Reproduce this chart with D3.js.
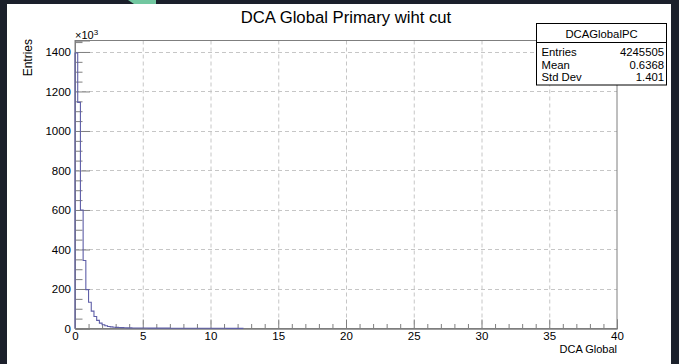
<!DOCTYPE html>
<html><head><meta charset="utf-8">
<script src="https://cdn.jsdelivr.net/npm/d3@7"></script>
<style>
html,body{margin:0;padding:0;background:#1b202b;}
svg{display:block;font-family:"Liberation Sans",Arial,Helvetica,sans-serif;}
</style></head>
<body>
<svg id="c" width="679" height="364"></svg>
<script>
// ---- data (values in units of 10^3 entries) ----
const binWidth = 0.2;
const binStart = 0;
const counts = [1395,1145,600,344,197,133,88,61,41,27,19,14,10,8,6.5,5.5,4.8,4.2,3.8,3.4,
  3.1,2.9,2.7,2.5,2.4,2.3,2.2,2.1,2.0,1.9,
  1.85,1.8,1.75,1.7,1.65,1.6,1.55,1.5,1.45,1.4,
  1.35,1.3,1.3,1.25,1.2,1.2,1.15,1.1,1.1,1.05,
  1.0,1.0,0.95,0.95,0.9,0.9,0.85,0.85,0.8,0.8,
  0.75,0.7];
const xMajorTicks = [0,5,10,15,20,25,30,35,40];
const yMajorTicks = [0,200,400,600,800,1000,1200,1400];
const statsLabels = ["Entries","Mean","Std Dev"];
const statsValues = ["4245505","0.6368","1.401"];
const histName = "DCAGlobalPC";
const titleText = "DCA Global Primary wiht cut";

const svg = d3.select("#c");
// canvas
svg.append("rect").attr("x",7).attr("y",4).attr("width",664).attr("height",360).attr("fill","#ffffff");
svg.append("path").attr("d","M128,0 L156,0 L156,4 L134,4 Z").attr("fill","#72c7a0");

const L=75, R=617, T=40.5, B=328.5;
const x = d3.scaleLinear().domain([0,40]).range([L,R]);
const y = d3.scaleLinear().domain([0,1458]).range([B,T]);

const gridC = "#c6c6c6", axC = "#7f7f7f";
// grid
svg.append("g").selectAll("line").data(xMajorTicks.filter(d=>d>0&&d<40)).join("line")
  .attr("x1",d=>x(d)+0.5).attr("x2",d=>x(d)+0.5).attr("y1",T).attr("y2",B)
  .attr("stroke",gridC).attr("stroke-dasharray","4,3");
svg.append("g").selectAll("line").data(yMajorTicks.filter(d=>d>0)).join("line")
  .attr("y1",d=>Math.round(y(d))+0.5).attr("y2",d=>Math.round(y(d))+0.5).attr("x1",L).attr("x2",R)
  .attr("stroke",gridC).attr("stroke-dasharray","4,3");

// frame
svg.append("rect").attr("x",L).attr("y",T).attr("width",R-L).attr("height",B-T)
  .attr("fill","none").attr("stroke",axC);

const fontTick = "11.5px";
// x axis
const xMinor = d3.range(0,41,1).filter(d=>d%5!==0);
const gxm = svg.append("g").attr("transform",`translate(0,${B})`)
  .call(d3.axisBottom(x).tickValues(xMinor).tickSize(-4.5).tickFormat(""));
const gx = svg.append("g").attr("transform",`translate(0,${B})`)
  .call(d3.axisBottom(x).tickValues(xMajorTicks).tickSize(-9).tickPadding(3).tickFormat(d3.format("d")));
// y axis
const yMinor = d3.range(0,1458,50).filter(d=>d%200!==0);
const gym = svg.append("g").attr("transform",`translate(${L},0)`)
  .call(d3.axisLeft(y).tickValues(yMinor).tickSize(-7.5).tickFormat(""));
const gy = svg.append("g").attr("transform",`translate(${L},0)`)
  .call(d3.axisLeft(y).tickValues(yMajorTicks).tickSize(-15).tickPadding(4).tickFormat(d3.format("d")));
[gxm,gx,gym,gy].forEach(g=>{
  g.select(".domain").attr("stroke",axC);
  g.selectAll(".tick line").attr("stroke",axC);
  g.selectAll("text").attr("fill","#000").style("font-size",fontTick).style("font-family","Liberation Sans,Arial,sans-serif");
});

// histogram
const pts = [];
pts.push([x(binStart), y(0)]);
counts.forEach((c,i)=>{
  const x0 = x(binStart+i*binWidth), x1 = x(binStart+(i+1)*binWidth);
  pts.push([x0,y(c)]); pts.push([x1,y(c)]);
});
pts.push([x(binStart+counts.length*binWidth), y(0)]);
svg.append("path").attr("d",d3.line()(pts)).attr("fill","none")
  .attr("stroke","#5f5fa8").attr("stroke-width",1.1);

// title
svg.append("text").attr("x",346).attr("y",23).attr("text-anchor","middle")
  .style("font-size","16.7px").attr("fill","#000").text(titleText);
// axis titles
svg.append("text").attr("x",617).attr("y",353).attr("text-anchor","end")
  .style("font-size","11px").text("DCA Global");
svg.append("text").attr("transform","translate(31.5,39) rotate(-90)").attr("text-anchor","end")
  .style("font-size","12px").text("Entries");
// exponent
const ex = svg.append("text").attr("x",75).attr("y",39).style("font-size","11px");
ex.append("tspan").text("\u00d710");
ex.append("tspan").attr("dy",-4).style("font-size","8px").text("3");

// stats box
const bx=536.5, by=23.5, bw=130, bh=61.5;
svg.append("rect").attr("x",bx).attr("y",by).attr("width",bw).attr("height",bh)
  .attr("fill","#fff").attr("stroke","#000");
svg.append("line").attr("x1",bx).attr("x2",bx+bw).attr("y1",42.5).attr("y2",42.5).attr("stroke","#000");
svg.append("text").attr("x",bx+bw/2).attr("y",38).attr("text-anchor","middle").style("font-size","11.3px").text(histName);
const rowsY = [56,68.5,81];
svg.append("g").selectAll("text").data(statsLabels).join("text")
  .attr("x",541.5).attr("y",(d,i)=>rowsY[i]).style("font-size","11.3px").text(d=>d);
svg.append("g").selectAll("text").data(statsValues).join("text")
  .attr("x",664).attr("y",(d,i)=>rowsY[i]).attr("text-anchor","end").style("font-size","11.3px").text(d=>d);
</script>
</body></html>
